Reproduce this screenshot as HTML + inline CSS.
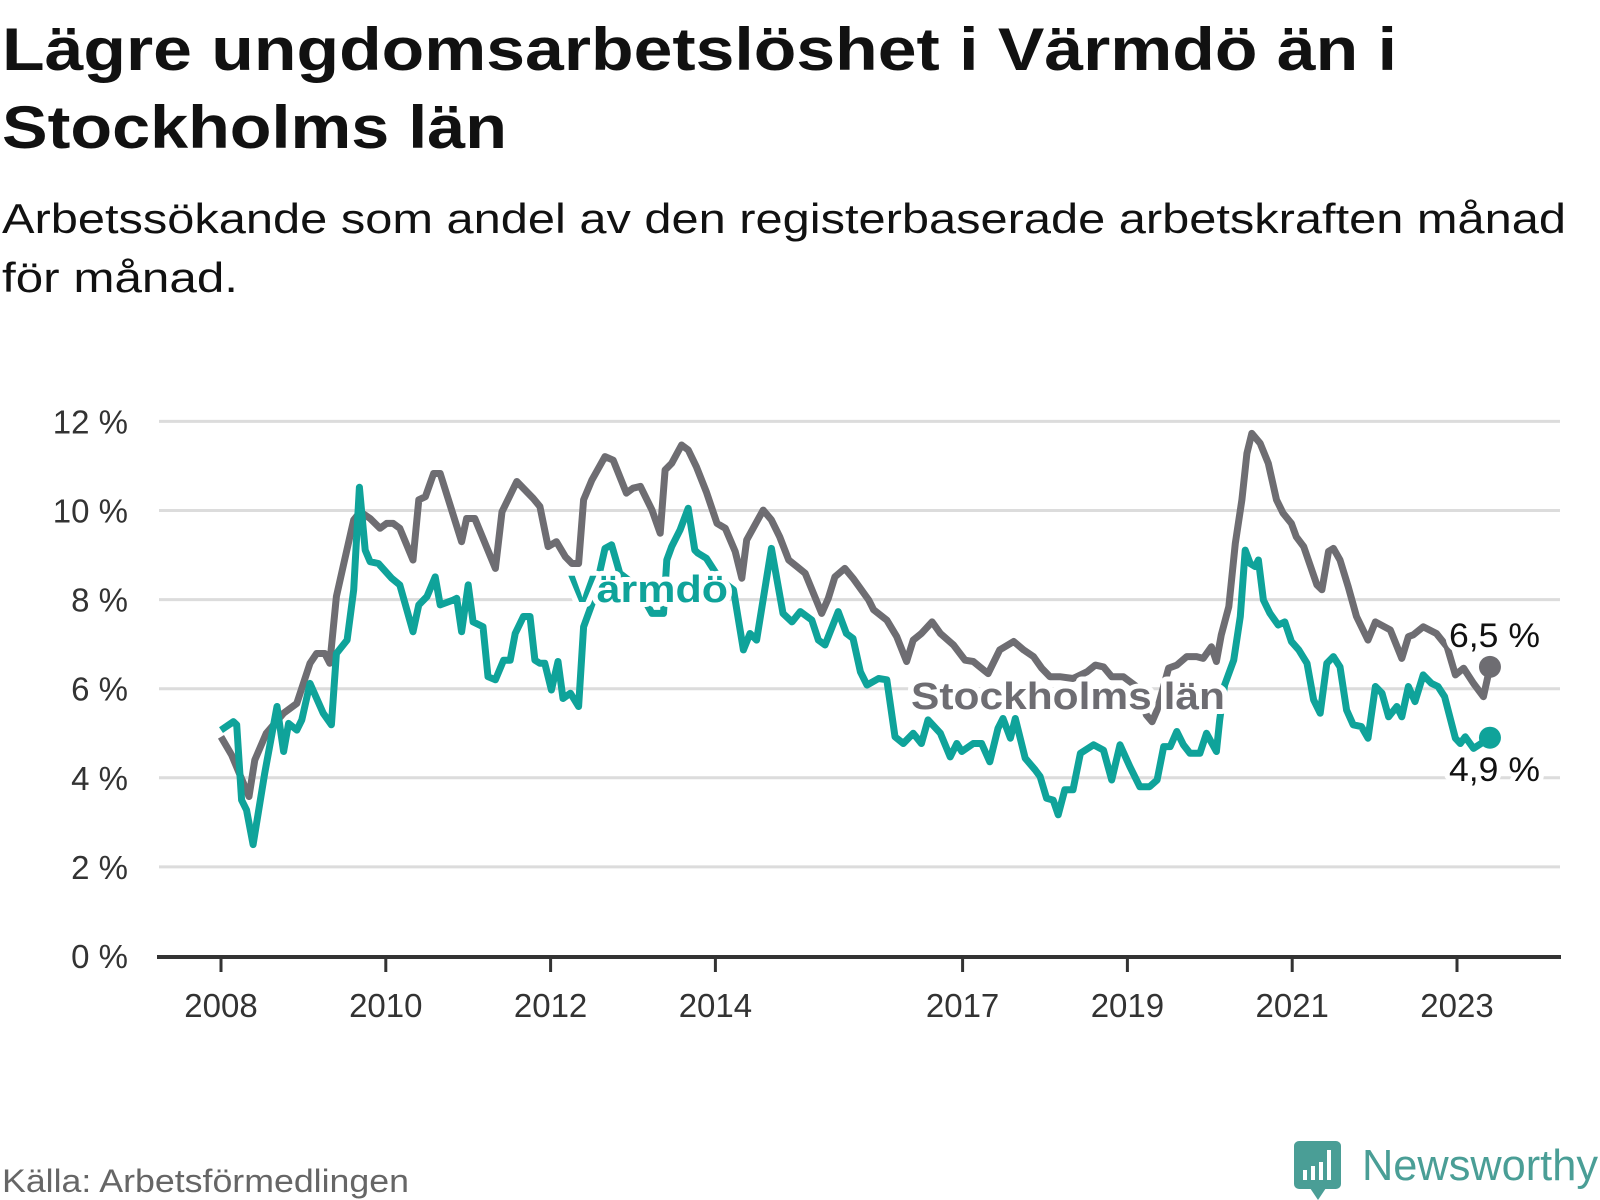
<!DOCTYPE html>
<html><head><meta charset="utf-8"><style>
html,body{margin:0;padding:0;background:#fff;}
svg{display:block;font-family:"Liberation Sans",sans-serif;}
</style></head><body>
<svg id="chart" width="1600" height="1200" viewBox="0 0 1600 1200" xmlns="http://www.w3.org/2000/svg">
<text x="2" y="70" font-size="60" font-weight="bold" fill="#111" textLength="1395" lengthAdjust="spacingAndGlyphs">Lägre ungdomsarbetslöshet i Värmdö än i</text>
<text x="2" y="148" font-size="60" font-weight="bold" fill="#111" textLength="505" lengthAdjust="spacingAndGlyphs">Stockholms län</text>
<text x="2" y="233" font-size="42" fill="#111" textLength="1564" lengthAdjust="spacingAndGlyphs">Arbetssökande som andel av den registerbaserade arbetskraften månad</text>
<text x="2" y="292" font-size="42" fill="#111" textLength="236" lengthAdjust="spacingAndGlyphs">för månad.</text>
<g id="grid"></g>
<g id="yticks"></g>
<g id="xaxis"></g>
<g id="series"></g>
<text x="2" y="1192" font-size="32" fill="#666" textLength="407" lengthAdjust="spacingAndGlyphs">Källa: Arbetsförmedlingen</text>
<g>
  <rect x="1294" y="1141" width="47" height="48" rx="5" fill="#4a9e96"/>
  <polygon points="1310,1188 1326,1188 1318,1200" fill="#4a9e96"/>
  <rect x="1303" y="1170" width="4" height="10" fill="#fff"/>
  <rect x="1311" y="1166" width="4" height="14" fill="#fff"/>
  <rect x="1319" y="1162" width="4" height="18" fill="#fff"/>
  <rect x="1327" y="1150" width="4" height="30" fill="#fff"/>
  <text x="1362" y="1180" font-size="44" fill="#4a9e96" textLength="236" lengthAdjust="spacingAndGlyphs">Newsworthy</text>
</g>
</svg>
<script>
const yTickVals = [0, 2, 4, 6, 8, 10, 12];
const yTickLabels = ["0 %", "2 %", "4 %", "6 %", "8 %", "10 %", "12 %"];
const xTickYears = [2008, 2010, 2012, 2014, 2017, 2019, 2021, 2023];
const xTickLabels = ["2008", "2010", "2012", "2014", "2017", "2019", "2021", "2023"];

const stockDates = [2008.00,2008.13,2008.34,2008.41,2008.55,2008.76,2008.92,2009.08,2009.16,2009.26,2009.32,2009.40,2009.49,2009.61,2009.69,2009.81,2009.93,2010.01,2010.09,2010.17,2010.33,2010.40,2010.48,2010.58,2010.66,2010.92,2010.98,2011.08,2011.33,2011.41,2011.59,2011.79,2011.87,2011.97,2012.07,2012.18,2012.26,2012.34,2012.40,2012.50,2012.66,2012.76,2012.92,2013.00,
2013.09,2013.23,2013.33,2013.39,2013.47,2013.59,2013.67,2013.77,2013.89,2014.02,2014.12,2014.24,2014.32,2014.38,2014.58,2014.68,2014.78,2014.89,2014.99,2015.09,2015.29,2015.37,2015.45,2015.57,2015.67,2015.86,2015.92,2016.08,2016.20,2016.32,2016.40,2016.50,2016.63,2016.73,2016.89,2017.03,2017.13,2017.21,2017.31,2017.45,2017.62,2017.74,2017.86,2017.96,2018.06,
2018.18,2018.34,2018.51,2018.61,2018.71,2018.81,2018.95,2019.11,2019.23,2019.30,2019.36,2019.50,2019.60,2019.72,2019.84,2019.92,2020.02,2020.08,2020.14,2020.23,2020.31,2020.39,2020.45,2020.51,2020.61,2020.71,2020.81,2020.89,2020.99,2021.05,2021.14,2021.30,2021.36,2021.44,2021.50,2021.58,2021.68,2021.78,2021.92,2022.01,2022.19,2022.33,2022.41,2022.47,2022.59,2022.75,2022.88,2022.98,2023.08,2023.20,2023.32,2023.40];
const stockVals = [4.92,4.51,3.58,4.40,5.00,5.45,5.67,6.57,6.79,6.79,6.57,8.07,8.81,9.79,9.97,9.82,9.60,9.71,9.71,9.60,8.89,10.24,10.31,10.83,10.83,9.30,9.82,9.82,8.70,9.97,10.65,10.27,10.09,9.19,9.30,8.96,8.81,8.81,10.24,10.68,11.21,11.13,10.39,10.50,
10.54,10.01,9.49,10.91,11.06,11.47,11.36,10.98,10.42,9.71,9.60,9.08,8.48,9.34,10.01,9.79,9.41,8.89,8.74,8.59,7.69,8.03,8.51,8.70,8.48,7.99,7.77,7.54,7.17,6.61,7.09,7.24,7.50,7.24,6.98,6.64,6.61,6.49,6.34,6.87,7.06,6.87,6.72,6.46,6.27,
6.27,6.23,6.38,6.53,6.49,6.27,6.27,6.05,5.41,5.26,5.52,6.46,6.53,6.72,6.72,6.68,6.94,6.61,7.21,7.84,9.26,10.24,11.28,11.73,11.51,11.06,10.24,9.94,9.71,9.41,9.19,8.33,8.22,9.08,9.15,8.89,8.29,7.62,7.09,7.50,7.32,6.68,7.17,7.21,7.39,7.24,6.94,6.31,6.46,6.12,5.82,6.49];

const varmDates = [2008.00,2008.15,2008.19,2008.25,2008.31,2008.39,2008.53,2008.68,2008.76,2008.82,2008.92,2008.98,2009.08,2009.24,2009.34,2009.40,2009.53,2009.61,2009.68,2009.75,2009.81,2009.91,2010.07,2010.17,2010.33,2010.40,2010.50,2010.60,2010.66,2010.82,2010.86,2010.92,2011.00,2011.06,2011.18,2011.24,2011.33,2011.43,2011.51,2011.57,2011.67,2011.75,2011.81,2011.87,2011.93,2012.01,2012.09,2012.15,2012.24,2012.34,2012.40,2012.52,2012.66,2012.74,2012.84,
2013.05,2013.23,2013.37,2013.41,2013.47,2013.57,2013.67,2013.75,2013.79,2013.89,2014.06,2014.22,2014.34,2014.42,2014.50,2014.68,2014.82,2014.93,2015.03,2015.17,2015.25,2015.33,2015.49,2015.59,2015.67,2015.76,2015.84,2015.98,2016.08,2016.18,2016.28,2016.40,2016.50,2016.58,2016.73,2016.85,2016.93,2016.99,2017.13,2017.23,2017.33,2017.43,2017.49,2017.58,2017.64,2017.76,2017.88,2017.94,
2018.02,2018.10,2018.16,2018.24,2018.34,2018.43,2018.59,2018.71,2018.81,2018.91,2019.03,2019.15,2019.27,2019.36,2019.44,2019.52,2019.60,2019.68,2019.76,2019.88,2019.96,2020.08,2020.12,2020.18,2020.29,2020.37,2020.43,2020.49,2020.55,2020.59,2020.65,2020.73,2020.83,2020.91,2020.99,2021.08,2021.18,2021.26,2021.34,2021.42,2021.50,2021.58,2021.66,2021.74,2021.84,2021.92,2022.01,2022.09,2022.17,2022.27,2022.33,2022.41,2022.49,2022.59,2022.69,2022.77,2022.85,2022.98,2023.04,2023.10,2023.20,2023.40];
const varmVals = [5.07,5.26,5.19,3.50,3.28,2.50,4.10,5.60,4.59,5.22,5.07,5.30,6.12,5.45,5.19,6.79,7.09,8.22,10.52,9.11,8.85,8.81,8.48,8.33,7.28,7.88,8.07,8.51,7.88,7.99,8.03,7.28,8.33,7.50,7.39,6.27,6.20,6.64,6.64,7.24,7.62,7.62,6.64,6.57,6.57,5.97,6.61,5.78,5.90,5.60,7.39,7.99,9.15,9.23,8.59,
8.29,7.69,7.69,8.89,9.19,9.56,10.05,9.11,9.04,8.93,8.44,8.22,6.87,7.24,7.09,9.15,7.69,7.50,7.73,7.54,7.09,6.98,7.73,7.24,7.13,6.38,6.08,6.23,6.20,4.92,4.77,5.00,4.77,5.30,5.00,4.47,4.77,4.59,4.77,4.77,4.36,5.11,5.33,4.89,5.33,4.44,4.18,4.03,
3.54,3.50,3.17,3.73,3.73,4.55,4.74,4.62,3.95,4.74,4.25,3.80,3.80,3.95,4.70,4.70,5.04,4.74,4.55,4.55,5.00,4.59,5.30,6.08,6.64,7.62,9.11,8.81,8.74,8.89,7.99,7.69,7.43,7.50,7.06,6.87,6.57,5.75,5.45,6.57,6.72,6.49,5.52,5.19,5.15,4.89,6.05,5.90,5.37,5.60,5.37,6.05,5.71,6.31,6.12,6.05,5.82,4.89,4.77,4.92,4.66,4.90];

const NS = "http://www.w3.org/2000/svg";
function xScale(t){ return 221 + (t - 2008) * 82.4; }
function yScale(v){ return 956 - v * 44.55; }
function mk(tag, attrs, parent){
  const el = document.createElementNS(NS, tag);
  for (const k in attrs) el.setAttribute(k, attrs[k]);
  parent.appendChild(el);
  return el;
}
const grid = document.getElementById('grid');
const yt = document.getElementById('yticks');
const xa = document.getElementById('xaxis');
const ser = document.getElementById('series');

yTickVals.forEach((v, i) => {
  if (v > 0) {
    const g = mk('line', {x1: 159, x2: 1560, y1: yScale(v), y2: yScale(v), stroke: '#dcdcdc', 'stroke-width': 3}, grid);
    
    
  }
  const t = mk('text', {x: 128, y: yScale(v) + 12, 'text-anchor': 'end', 'font-size': 33, fill: '#333'}, yt);
  t.textContent = yTickLabels[i];
  
  
});

const axis = mk('line', {x1: 157, x2: 1561, y1: 957, y2: 957, stroke: '#333', 'stroke-width': 4}, xa);


xTickYears.forEach((yr, i) => {
  const tk = mk('line', {x1: xScale(yr), x2: xScale(yr), y1: 957, y2: 972, stroke: '#333', 'stroke-width': 3}, xa);
  
  
  const t = mk('text', {x: xScale(yr), y: 1017, 'text-anchor': 'middle', 'font-size': 33, fill: '#333'}, xa);
  t.textContent = xTickLabels[i];
  
  
});

function linePath(ds, vs){
  return ds.map((d, i) => (i ? 'L' : 'M') + xScale(d).toFixed(1) + ',' + yScale(vs[i]).toFixed(1)).join(' ');
}
const sLine = mk('path', {d: linePath(stockDates, stockVals), fill: 'none', stroke: '#6e6d72', 'stroke-width': 7, 'stroke-linejoin': 'round'}, ser);


const vLine = mk('path', {d: linePath(varmDates, varmVals), fill: 'none', stroke: '#0fa39a', 'stroke-width': 7, 'stroke-linejoin': 'round'}, ser);



const halo = {stroke: '#fff', 'stroke-width': 10, 'paint-order': 'stroke', 'stroke-linejoin': 'round'};
function label(txt, x, y, size, weight, color, len, name){
  const a = Object.assign({x: x, y: y, 'font-size': size, 'font-weight': weight, fill: color}, halo);
  if (len) { a.textLength = len; a.lengthAdjust = 'spacingAndGlyphs'; }
  const t = mk('text', a, ser);
  t.textContent = txt;
  return t;
}
const lv = label('Värmdö', 568, 602, 38, 'bold', '#0fa39a', 160);


const ls = label('Stockholms län', 911, 709, 38, 'bold', '#6e6d72', 314);



const lastS = stockDates.length - 1, lastV = varmDates.length - 1;
const l65 = label(String(stockVals[lastS].toFixed(1)).replace('.', ',') + ' %', 1449, 647, 34, 'normal', '#111', 91);


const l49 = label(String(varmVals[lastV].toFixed(1)).replace('.', ',') + ' %', 1449, 781, 34, 'normal', '#111', 91);



const dS = mk('circle', {cx: xScale(stockDates[lastS]), cy: yScale(stockVals[lastS]), r: 11, fill: '#6e6d72'}, ser);


const dV = mk('circle', {cx: xScale(varmDates[lastV]), cy: yScale(varmVals[lastV]), r: 11, fill: '#0fa39a'}, ser);


</script>
</body></html>
